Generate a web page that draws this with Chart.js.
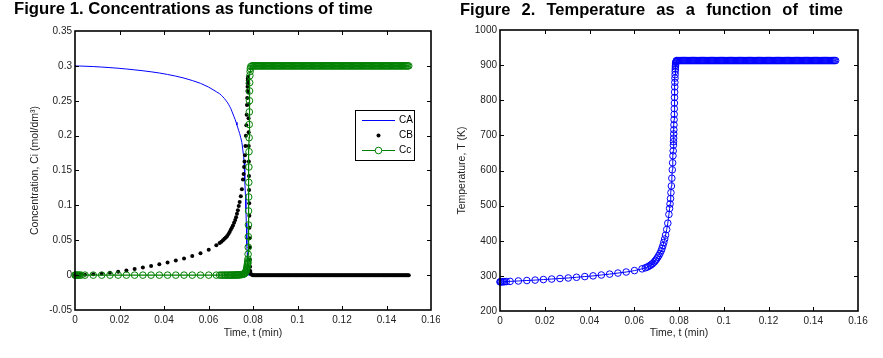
<!DOCTYPE html>
<html><head><meta charset="utf-8">
<script src="https://cdn.jsdelivr.net/npm/chart.js@4.4.1/dist/chart.umd.min.js"></script>
<style>
html,body{margin:0;padding:0;background:#fff;}
body{width:883px;height:358px;position:relative;overflow:hidden;font-family:'Liberation Sans',Arial,sans-serif;}
canvas{position:absolute;top:0;}
#c1{left:0;}
#c2{left:440px;}
.title{position:absolute;top:1px;font-weight:bold;font-size:16.7px;line-height:1;color:#000;white-space:nowrap;z-index:2;}
#t1{left:14px;}
#t2{left:460px;width:383px;font-size:16.5px;text-align:justify;text-align-last:justify;white-space:normal;}
</style></head><body>
<canvas id="c1" width="440" height="358"></canvas>
<canvas id="c2" width="443" height="358"></canvas>
<div class="title" id="t1">Figure 1. Concentrations as functions of time</div>
<div class="title" id="t2">Figure 2. Temperature as a function of time</div>
<script>
const time = [
  0, 0.0002, 0.0005, 0.001, 0.0015, 0.002, 0.0028,
  0.0045, 0.0082, 0.012, 0.0157, 0.0194, 0.0231, 0.0268, 0.0305, 0.0342, 0.0379, 0.0416, 0.0453, 0.049, 0.0527, 0.0564, 0.0601, 0.0635,
  0.065, 0.0658, 0.0665, 0.0672, 0.0678, 0.0684, 0.069, 0.0695, 0.07, 0.0705,
  0.071, 0.0715, 0.072, 0.0724, 0.0728, 0.0732, 0.0736, 0.074, 0.0745, 0.075,
  0.0755, 0.0758, 0.076, 0.0762, 0.0764, 0.0766, 0.0768, 0.077, 0.07715, 0.0773,
  0.0774, 0.0775, 0.07755, 0.0776, 0.07765, 0.0777, 0.07775, 0.0778, 0.07785, 0.0779,
  0.07795, 0.078, 0.07805, 0.0781, 0.07815, 0.0782, 0.07825, 0.0783, 0.07835, 0.0784,
  0.07845, 0.0785, 0.0786, 0.0787, 0.0788, 0.079, 0.0795, 0.08,
  0.0805, 0.081, 0.0815, 0.082, 0.0825, 0.083, 0.0835, 0.084, 0.0845, 0.085,
  0.0855, 0.086, 0.0865, 0.087, 0.0875, 0.088, 0.0885, 0.089, 0.0895, 0.09,
  0.0905, 0.091, 0.0915, 0.092, 0.0925, 0.093, 0.0935, 0.094, 0.0945, 0.095,
  0.0955, 0.096, 0.0965, 0.097, 0.0975, 0.098, 0.0985, 0.099, 0.0995, 0.1,
  0.1005, 0.101, 0.1015, 0.102, 0.1025, 0.103, 0.1035, 0.104, 0.1045, 0.105,
  0.1055, 0.106, 0.1065, 0.107, 0.1075, 0.108, 0.1085, 0.109, 0.1095, 0.11,
  0.1105, 0.111, 0.1115, 0.112, 0.1125, 0.113, 0.1135, 0.114, 0.1145, 0.115,
  0.1155, 0.116, 0.1165, 0.117, 0.1175, 0.118, 0.1185, 0.119, 0.1195, 0.12,
  0.1205, 0.121, 0.1215, 0.122, 0.1225, 0.123, 0.1235, 0.124, 0.1245, 0.125,
  0.1255, 0.126, 0.1265, 0.127, 0.1275, 0.128, 0.1285, 0.129, 0.1295, 0.13,
  0.1305, 0.131, 0.1315, 0.132, 0.1325, 0.133, 0.1335, 0.134, 0.1345, 0.135,
  0.1355, 0.136, 0.1365, 0.137, 0.1375, 0.138, 0.1385, 0.139, 0.1395, 0.14,
  0.1405, 0.141, 0.1415, 0.142, 0.1425, 0.143, 0.1435, 0.144, 0.1445, 0.145,
  0.1455, 0.146, 0.1465, 0.147, 0.1475, 0.148, 0.1485, 0.149, 0.1495, 0.15
];
const concA = [
  0.3, 0.3, 0.2999, 0.2999, 0.2998, 0.2998, 0.2997,
  0.2995, 0.299, 0.2983, 0.2975, 0.2966, 0.2955, 0.2943, 0.293, 0.2915, 0.2898, 0.2877, 0.2853, 0.2825, 0.279, 0.275, 0.2695, 0.263,
  0.26, 0.2578, 0.2555, 0.253, 0.2505, 0.248, 0.245, 0.242, 0.239, 0.235,
  0.231, 0.227, 0.223, 0.219, 0.215, 0.211, 0.207, 0.203, 0.197, 0.19,
  0.178, 0.17, 0.162, 0.15, 0.135, 0.115, 0.095, 0.075, 0.058, 0.042,
  0.032, 0.022, 0.017, 0.012, 0.008, 0.005, 0.003, 0.002, 0.001, 0.0005,
  0, 0, 0, 0, 0, 0, 0, 0, 0, 0,
  0, 0, 0, 0, 0, 0, 0, 0,
  0, 0, 0, 0, 0, 0, 0, 0, 0, 0,
  0, 0, 0, 0, 0, 0, 0, 0, 0, 0,
  0, 0, 0, 0, 0, 0, 0, 0, 0, 0,
  0, 0, 0, 0, 0, 0, 0, 0, 0, 0,
  0, 0, 0, 0, 0, 0, 0, 0, 0, 0,
  0, 0, 0, 0, 0, 0, 0, 0, 0, 0,
  0, 0, 0, 0, 0, 0, 0, 0, 0, 0,
  0, 0, 0, 0, 0, 0, 0, 0, 0, 0,
  0, 0, 0, 0, 0, 0, 0, 0, 0, 0,
  0, 0, 0, 0, 0, 0, 0, 0, 0, 0,
  0, 0, 0, 0, 0, 0, 0, 0, 0, 0,
  0, 0, 0, 0, 0, 0, 0, 0, 0, 0,
  0, 0, 0, 0, 0, 0, 0, 0, 0, 0,
  0, 0, 0, 0, 0, 0, 0, 0, 0, 0
];
const concB = [
  0, 0, 0.0001, 0.0001, 0.0002, 0.0003, 0.0004,
  0.0006, 0.0012, 0.002, 0.0035, 0.005, 0.0068, 0.0088, 0.011, 0.0132, 0.0156, 0.0182, 0.021, 0.024, 0.0275, 0.0315, 0.0365, 0.043,
  0.046, 0.048, 0.05, 0.052, 0.054, 0.056, 0.059, 0.062, 0.065, 0.068,
  0.071, 0.075, 0.079, 0.083, 0.088, 0.093, 0.099, 0.105, 0.113, 0.123,
  0.137, 0.145, 0.155, 0.163, 0.172, 0.185, 0.2, 0.215, 0.23, 0.244,
  0.254, 0.264, 0.27, 0.275, 0.279, 0.282, 0.284, 0.282, 0.275, 0.262,
  0.245, 0.225, 0.205, 0.185, 0.163, 0.142, 0.122, 0.103, 0.085, 0.068,
  0.053, 0.04, 0.022, 0.012, 0.006, 0.002, 0.0005, 0,
  0, 0, 0, 0, 0, 0, 0, 0, 0, 0,
  0, 0, 0, 0, 0, 0, 0, 0, 0, 0,
  0, 0, 0, 0, 0, 0, 0, 0, 0, 0,
  0, 0, 0, 0, 0, 0, 0, 0, 0, 0,
  0, 0, 0, 0, 0, 0, 0, 0, 0, 0,
  0, 0, 0, 0, 0, 0, 0, 0, 0, 0,
  0, 0, 0, 0, 0, 0, 0, 0, 0, 0,
  0, 0, 0, 0, 0, 0, 0, 0, 0, 0,
  0, 0, 0, 0, 0, 0, 0, 0, 0, 0,
  0, 0, 0, 0, 0, 0, 0, 0, 0, 0,
  0, 0, 0, 0, 0, 0, 0, 0, 0, 0,
  0, 0, 0, 0, 0, 0, 0, 0, 0, 0,
  0, 0, 0, 0, 0, 0, 0, 0, 0, 0,
  0, 0, 0, 0, 0, 0, 0, 0, 0, 0
];
const concC = [
  0, 0, 0, 0, 0, 0, 0,
  0, 0, 0, 0, 0, 0, 0, 0, 0, 0, 0, 0, 0, 0, 0, 0, 0,
  0, 0, 0, 0, 0, 0, 0, 0, 0, 0.0001,
  0.0001, 0.0001, 0.0002, 0.0002, 0.0003, 0.0003, 0.0004, 0.0005, 0.0006, 0.0008,
  0.001, 0.0015, 0.002, 0.0025, 0.003, 0.004, 0.005, 0.007, 0.009, 0.011,
  0.013, 0.015, 0.016, 0.017, 0.018, 0.02, 0.023, 0.03, 0.04, 0.055,
  0.072, 0.092, 0.112, 0.133, 0.155, 0.177, 0.197, 0.216, 0.234, 0.25,
  0.264, 0.276, 0.286, 0.292, 0.296, 0.299, 0.3, 0.3,
  0.3, 0.3, 0.3, 0.3, 0.3, 0.3, 0.3, 0.3, 0.3, 0.3,
  0.3, 0.3, 0.3, 0.3, 0.3, 0.3, 0.3, 0.3, 0.3, 0.3,
  0.3, 0.3, 0.3, 0.3, 0.3, 0.3, 0.3, 0.3, 0.3, 0.3,
  0.3, 0.3, 0.3, 0.3, 0.3, 0.3, 0.3, 0.3, 0.3, 0.3,
  0.3, 0.3, 0.3, 0.3, 0.3, 0.3, 0.3, 0.3, 0.3, 0.3,
  0.3, 0.3, 0.3, 0.3, 0.3, 0.3, 0.3, 0.3, 0.3, 0.3,
  0.3, 0.3, 0.3, 0.3, 0.3, 0.3, 0.3, 0.3, 0.3, 0.3,
  0.3, 0.3, 0.3, 0.3, 0.3, 0.3, 0.3, 0.3, 0.3, 0.3,
  0.3, 0.3, 0.3, 0.3, 0.3, 0.3, 0.3, 0.3, 0.3, 0.3,
  0.3, 0.3, 0.3, 0.3, 0.3, 0.3, 0.3, 0.3, 0.3, 0.3,
  0.3, 0.3, 0.3, 0.3, 0.3, 0.3, 0.3, 0.3, 0.3, 0.3,
  0.3, 0.3, 0.3, 0.3, 0.3, 0.3, 0.3, 0.3, 0.3, 0.3,
  0.3, 0.3, 0.3, 0.3, 0.3, 0.3, 0.3, 0.3, 0.3, 0.3,
  0.3, 0.3, 0.3, 0.3, 0.3, 0.3, 0.3, 0.3, 0.3, 0.3
];
const temperature = [
  283, 283, 283.1, 283.2, 283.4, 283.5, 283.8,
  284.3, 285.5, 286.8, 288, 289.5, 291, 292.5, 294, 296, 298, 300, 302.5, 305, 308, 311, 315, 320,
  323, 325, 327.5, 330, 333, 336, 340, 344, 348, 353,
  358, 364, 371, 378, 386, 395, 405, 416, 432, 450,
  475, 492, 505, 520, 537, 556, 578, 602, 622, 642,
  656, 672, 682, 692, 704, 716, 730, 745, 760, 776,
  792, 808, 823, 838, 851, 863, 873, 882, 889, 895,
  900, 904, 908, 910, 912, 913, 913, 913,
  913, 913, 913, 913, 913, 913, 913, 913, 913, 913,
  913, 913, 913, 913, 913, 913, 913, 913, 913, 913,
  913, 913, 913, 913, 913, 913, 913, 913, 913, 913,
  913, 913, 913, 913, 913, 913, 913, 913, 913, 913,
  913, 913, 913, 913, 913, 913, 913, 913, 913, 913,
  913, 913, 913, 913, 913, 913, 913, 913, 913, 913,
  913, 913, 913, 913, 913, 913, 913, 913, 913, 913,
  913, 913, 913, 913, 913, 913, 913, 913, 913, 913,
  913, 913, 913, 913, 913, 913, 913, 913, 913, 913,
  913, 913, 913, 913, 913, 913, 913, 913, 913, 913,
  913, 913, 913, 913, 913, 913, 913, 913, 913, 913,
  913, 913, 913, 913, 913, 913, 913, 913, 913, 913,
  913, 913, 913, 913, 913, 913, 913, 913, 913, 913,
  913, 913, 913, 913, 913, 913, 913, 913, 913, 913
];
const seriesNames = ['CA', 'CB', 'Cc'];
const tempSeriesName = 'T';
const xTickValues = [0, 0.02, 0.04, 0.06, 0.08, 0.1, 0.12, 0.14, 0.16];
const xTickLabels = ['0', '0.02', '0.04', '0.06', '0.08', '0.1', '0.12', '0.14', '0.16'];
const concTickValues = [-0.05, 0, 0.05, 0.1, 0.15, 0.2, 0.25, 0.3, 0.35];
const concTickLabels = ['-0.05', '0', '0.05', '0.1', '0.15', '0.2', '0.25', '0.3', '0.35'];
const tempTickValues = [200, 300, 400, 500, 600, 700, 800, 900, 1000];
const tempTickLabels = ['200', '300', '400', '500', '600', '700', '800', '900', '1000'];

const pts = ys => time.map((t, i) => ({x: t, y: ys[i]}));
Chart.defaults.font.family = "'Liberation Sans', Arial, sans-serif";

function boxPlugin(xVals, yVals) {
  return {
    id: 'matlabBox',
    afterDatasetsDraw(chart) {
      const {ctx, chartArea: a, scales: {x, y}} = chart;
      ctx.save();
      ctx.strokeStyle = '#000';
      ctx.lineWidth = 1;
      ctx.beginPath();
      xVals.forEach(v => {
        const px = Math.round(x.getPixelForValue(v)) + 0.5;
        if (px <= a.left + 1 || px >= a.right - 1) return;
        ctx.moveTo(px, a.bottom); ctx.lineTo(px, a.bottom - 4);
        ctx.moveTo(px, a.top); ctx.lineTo(px, a.top + 4);
      });
      yVals.forEach(v => {
        const py = Math.round(y.getPixelForValue(v)) + 0.5;
        if (py <= a.top + 1 || py >= a.bottom - 1) return;
        ctx.moveTo(a.left, py); ctx.lineTo(a.left + 4, py);
        ctx.moveTo(a.right, py); ctx.lineTo(a.right - 4, py);
      });
      ctx.stroke();
      ctx.lineWidth = 1.6;
      ctx.strokeRect(a.left, a.top, a.right - a.left, a.bottom - a.top);
      ctx.restore();
    }
  };
}

const legendPlugin = {
  id: 'insideLegend',
  afterDraw(chart) {
    const ctx = chart.ctx;
    const L = 355, T = 110, R = 414, B = 160;
    ctx.save();
    ctx.fillStyle = '#fff';
    ctx.fillRect(L, T, R - L, B - T);
    ctx.strokeStyle = '#000';
    ctx.lineWidth = 1;
    ctx.strokeRect(L + 0.5, T + 0.5, R - L, B - T);
    const rows = [120, 135, 150];
    const ds = chart.data.datasets;
    ctx.font = "10px 'Liberation Sans', Arial, sans-serif";
    ctx.textBaseline = 'middle';
    ctx.textAlign = 'left';
    ds.forEach((d, i) => {
      const yy = rows[i];
      if (d.showLine !== false) {
        ctx.strokeStyle = d.borderColor;
        ctx.lineWidth = d.borderWidth;
        ctx.beginPath(); ctx.moveTo(362, yy + 0.5); ctx.lineTo(395, yy + 0.5); ctx.stroke();
      }
      if (d.pointRadius > 0) {
        ctx.beginPath();
        ctx.arc(378.5, yy + 0.5, d.pointRadius, 0, Math.PI * 2);
        if (d.showLine === false) { ctx.fillStyle = d.pointBackgroundColor; ctx.fill(); }
        else { ctx.fillStyle = '#fff'; ctx.fill(); ctx.strokeStyle = d.pointBorderColor; ctx.lineWidth = d.pointBorderWidth; ctx.stroke(); }
      }
      ctx.fillStyle = '#000';
      ctx.fillText(d.label, 399, yy + 0.5);
    });
    ctx.restore();
  }
};

function xScale(height) {
  return {
    type: 'linear', min: 0, max: 0.16,
    grid: {display: false, drawTicks: false}, border: {display: false},
    afterBuildTicks: s => { s.ticks = xTickValues.map(v => ({value: v})); },
    afterFit: s => { s.height = height; s.paddingLeft = 0; s.paddingRight = 0; },
    ticks: {autoSkip: false, maxRotation: 0, minRotation: 0, padding: 4, color: '#222', font: {size: 10}, callback: (v, i) => xTickLabels[i]},
    title: {display: true, text: 'Time, t (min)', color: '#222', font: {size: 10.5}, padding: {top: 0, bottom: 18.7}}
  };
}

new Chart(document.getElementById('c1'), {
  type: 'line',
  data: {datasets: [
    {label: seriesNames[0], data: pts(concA), borderColor: '#0000ff', borderWidth: 1, pointRadius: 0, order: 3, clip: false},
    {label: seriesNames[1], data: pts(concB), showLine: false, pointRadius: 2, pointBackgroundColor: '#000', pointBorderColor: '#000', pointBorderWidth: 0, borderColor: '#000', order: 2, clip: false},
    {label: seriesNames[2], data: pts(concC), borderColor: '#008000', borderWidth: 1.2, pointRadius: 3.3, pointBackgroundColor: 'rgba(0,0,0,0)', pointBorderColor: '#008000', pointBorderWidth: 1, order: 1, clip: false}
  ]},
  options: {
    responsive: false, animation: false, devicePixelRatio: 1, events: [],
    layout: {padding: {top: 31, right: 9, left: 0, bottom: 0}},
    plugins: {legend: {display: false}, tooltip: {enabled: false}},
    scales: {
      x: xScale(48),
      y: {
        type: 'linear', min: -0.05, max: 0.35,
        grid: {display: false, drawTicks: false}, border: {display: false},
        afterBuildTicks: s => { s.ticks = concTickValues.map(v => ({value: v})); },
        afterFit: s => { s.width = 75; s.paddingTop = 0; s.paddingBottom = 0; },
        ticks: {autoSkip: false, padding: 3, color: '#222', font: {size: 10}, callback: (v, i) => concTickLabels[i]},
        title: {display: true, text: 'Concentration, Ci (mol/dm³)', color: '#222', font: {size: 10.5}, padding: {top: 28.7, bottom: 0}}
      }
    }
  },
  plugins: [boxPlugin(xTickValues, concTickValues), legendPlugin]
});

new Chart(document.getElementById('c2'), {
  type: 'line',
  data: {datasets: [
    {label: tempSeriesName, data: pts(temperature), borderColor: '#0000ff', borderWidth: 1, pointRadius: 3.3, pointBackgroundColor: 'rgba(0,0,0,0)', pointBorderColor: '#0000ff', pointBorderWidth: 1, clip: false}
  ]},
  options: {
    responsive: false, animation: false, devicePixelRatio: 1, events: [],
    layout: {padding: {top: 30, right: 25, left: 0, bottom: 0}},
    plugins: {legend: {display: false}, tooltip: {enabled: false}},
    scales: {
      x: xScale(47),
      y: {
        type: 'linear', min: 200, max: 1000,
        grid: {display: false, drawTicks: false}, border: {display: false},
        afterBuildTicks: s => { s.ticks = tempTickValues.map(v => ({value: v})); },
        afterFit: s => { s.width = 60; s.paddingTop = 0; s.paddingBottom = 0; },
        ticks: {autoSkip: false, padding: 3, color: '#222', font: {size: 10}, callback: (v, i) => tempTickLabels[i]},
        title: {display: true, text: 'Temperature, T (K)', color: '#222', font: {size: 10.5}, padding: {top: 15.7, bottom: 0}}
      }
    }
  },
  plugins: [boxPlugin(xTickValues, tempTickValues)]
});
</script>
</body></html>
